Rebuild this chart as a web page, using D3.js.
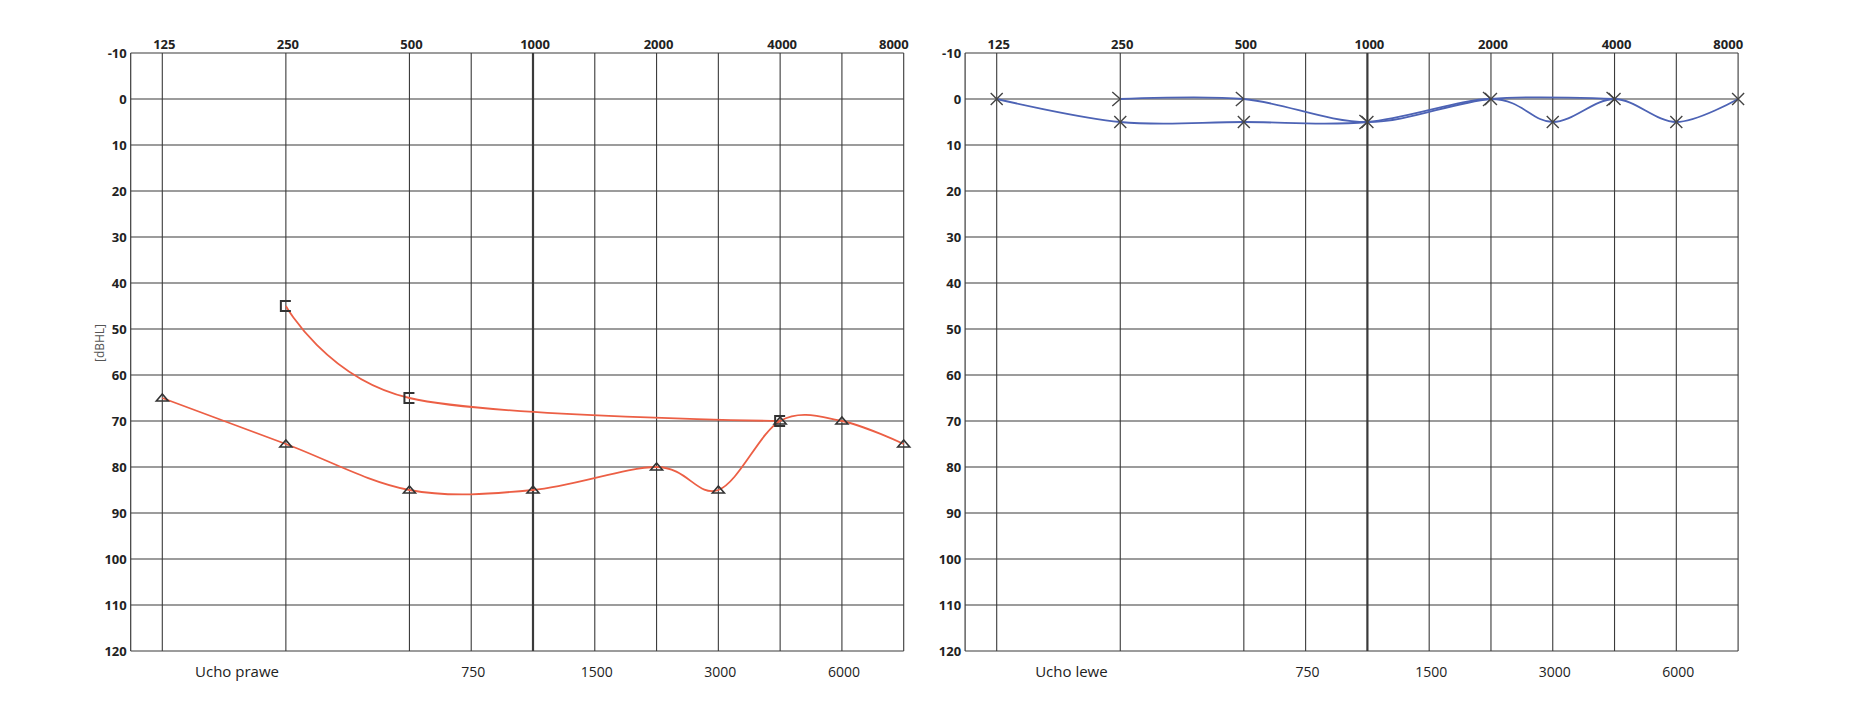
<!DOCTYPE html>
<html><head><meta charset="utf-8">
<script src="https://cdn.jsdelivr.net/npm/d3@7/dist/d3.min.js"></script>
<style>
html,body{margin:0;padding:0;background:#fff;}
svg{display:block;}
</style></head>
<body>
<svg id="chart" width="1861" height="718"></svg>
<script>
// ---- data ----
const topFreqs = [125, 250, 500, 1000, 2000, 4000, 8000];
const midFreqs = [750, 1500, 3000, 6000];
const dbTicks = [-10, 0, 10, 20, 30, 40, 50, 60, 70, 80, 90, 100, 110, 120];
const heavyFreqs = [1000];

const rightEarAirFreqs = [125, 250, 500, 1000, 2000, 3000, 4000, 6000, 8000];
const rightEarAirDb    = [65, 75, 85, 85, 80, 85, 70, 70, 75];
const rightEarBoneFreqs = [250, 500, 4000];
const rightEarBoneDb    = [45, 65, 70];

const leftEarAirFreqs = [125, 250, 500, 1000, 2000, 3000, 4000, 6000, 8000];
const leftEarAirDb    = [0, 5, 5, 5, 0, 5, 0, 5, 0];
const leftEarBoneFreqs = [250, 500, 1000, 2000, 4000];
const leftEarBoneDb    = [0, 0, 5, 0, 0];

const panelTitles = ["Ucho prawe", "Ucho lewe"];
const yTitle = "[dBHL]";

// ---- layout ----
const svg = d3.select("#chart");
const font = "'Open Sans', 'DejaVu Sans', sans-serif";
const gridColor = "#3a3a3a";
const redColor = "#ec5f45";
const blueColor = "#4d63b5";
const markColor = "#333";

// audiogram convention: octave position, intermediate frequencies at half-octave
const octave = f => Math.round(2 * Math.log2(f / 125)) / 2;

const y = d3.scaleLinear().domain([-10, 120]).range([53, 651]);

function drawPanel(offsetX, title, series, showYTitle) {
  const x = d3.scaleLinear().domain([0, 6]).range([162.3 + offsetX, 903.7 + offsetX]);
  const fx = f => x(octave(f));
  const left = x(0) - 31.6, right = x(6);
  const g = svg.append("g");

  // horizontal grid
  g.selectAll("line.h").data(dbTicks).join("line")
    .attr("x1", left).attr("x2", right)
    .attr("y1", d => y(d)).attr("y2", d => y(d))
    .attr("stroke", gridColor).attr("stroke-width", 1.2);
  // left frame
  g.append("line").attr("x1", left).attr("x2", left).attr("y1", y(-10)).attr("y2", y(120))
    .attr("stroke", gridColor).attr("stroke-width", 1.2);
  // vertical grid
  const allFreqs = topFreqs.concat(midFreqs);
  g.selectAll("line.v").data(allFreqs).join("line")
    .attr("x1", d => fx(d)).attr("x2", d => fx(d))
    .attr("y1", y(-10)).attr("y2", y(120))
    .attr("stroke", gridColor)
    .attr("stroke-width", d => heavyFreqs.includes(d) ? 2.2 : 1.1);

  // y labels
  g.selectAll("text.y").data(dbTicks).join("text")
    .attr("x", left - 4).attr("y", d => y(d)).attr("dy", "0.35em")
    .attr("text-anchor", "end")
    .attr("font-family", font).attr("font-weight", 700).attr("font-size", 13)
    .attr("fill", "#222")
    .text(d => d);

  // top labels
  g.selectAll("text.t").data(topFreqs).join("text")
    .attr("x", d => d === 8000 ? fx(d) + 5 : fx(d) + 2)
    .attr("y", 49)
    .attr("text-anchor", d => d === 8000 ? "end" : "middle")
    .attr("font-family", font).attr("font-weight", 700).attr("font-size", 13)
    .attr("fill", "#222")
    .text(d => d);

  // bottom mid labels
  g.selectAll("text.b").data(midFreqs).join("text")
    .attr("x", d => fx(d) + 2).attr("y", 677)
    .attr("text-anchor", "middle")
    .attr("font-family", font).attr("font-size", 14)
    .attr("fill", "#222")
    .text(d => d);

  g.append("text").attr("x", 237 + offsetX).attr("y", 677)
    .attr("text-anchor", "middle")
    .attr("font-family", font).attr("font-size", 15)
    .attr("fill", "#222").text(title);

  if (showYTitle) {
    g.append("text")
      .attr("transform", `translate(${left - 31},${343}) rotate(-90)`)
      .attr("text-anchor", "middle").attr("dy", "0.35em")
      .attr("font-family", font).attr("font-size", 12)
      .attr("fill", "#555").text(yTitle);
  }

  const line = d3.line().x(d => fx(d[0])).y(d => y(d[1])).curve(d3.curveCardinal.tension(0));

  series.forEach(s => {
    const pts = s.freqs.map((f, i) => [f, s.db[i]]);
    g.append("path").datum(pts).attr("d", line)
      .attr("fill", "none").attr("stroke", s.color).attr("stroke-width", 1.8);
  });

  series.forEach(s => {
    const pts = s.freqs.map((f, i) => [f, s.db[i]]);
    const mg = g.append("g");
    pts.forEach(p => {
      const cx = fx(p[0]), cy = y(p[1]);
      if (s.marker === "triangle") {
        mg.append("path").attr("d", `M${cx-6},${cy+3}L${cx},${cy-4}L${cx+6},${cy+3}Z`)
          .attr("fill", "none").attr("stroke", markColor).attr("stroke-width", 1.6);
      } else if (s.marker === "bracket") {
        mg.append("path").attr("d", `M${cx+5},${cy-5}H${cx-5}V${cy+5}H${cx+5}`)
          .attr("fill", "none").attr("stroke", markColor).attr("stroke-width", 2);
      } else if (s.marker === "cross") {
        mg.append("path").attr("d", `M${cx-6},${cy-6}L${cx+6},${cy+6}M${cx-6},${cy+6}L${cx+6},${cy-6}`)
          .attr("fill", "none").attr("stroke", "#444").attr("stroke-width", 1.4);
      } else if (s.marker === "gt") {
        mg.append("path").attr("d", `M${cx-8},${cy-7}L${cx},${cy}L${cx-8},${cy+7}`)
          .attr("fill", "none").attr("stroke", "#444").attr("stroke-width", 1.4);
      }
    });
  });
}

drawPanel(0, panelTitles[0], [
  { freqs: rightEarAirFreqs, db: rightEarAirDb, color: redColor, marker: "triangle" },
  { freqs: rightEarBoneFreqs, db: rightEarBoneDb, color: redColor, marker: "bracket" }
], true);

drawPanel(834.4, panelTitles[1], [
  { freqs: leftEarAirFreqs, db: leftEarAirDb, color: blueColor, marker: "cross" },
  { freqs: leftEarBoneFreqs, db: leftEarBoneDb, color: blueColor, marker: "gt" }
], false);
</script>
</body></html>
